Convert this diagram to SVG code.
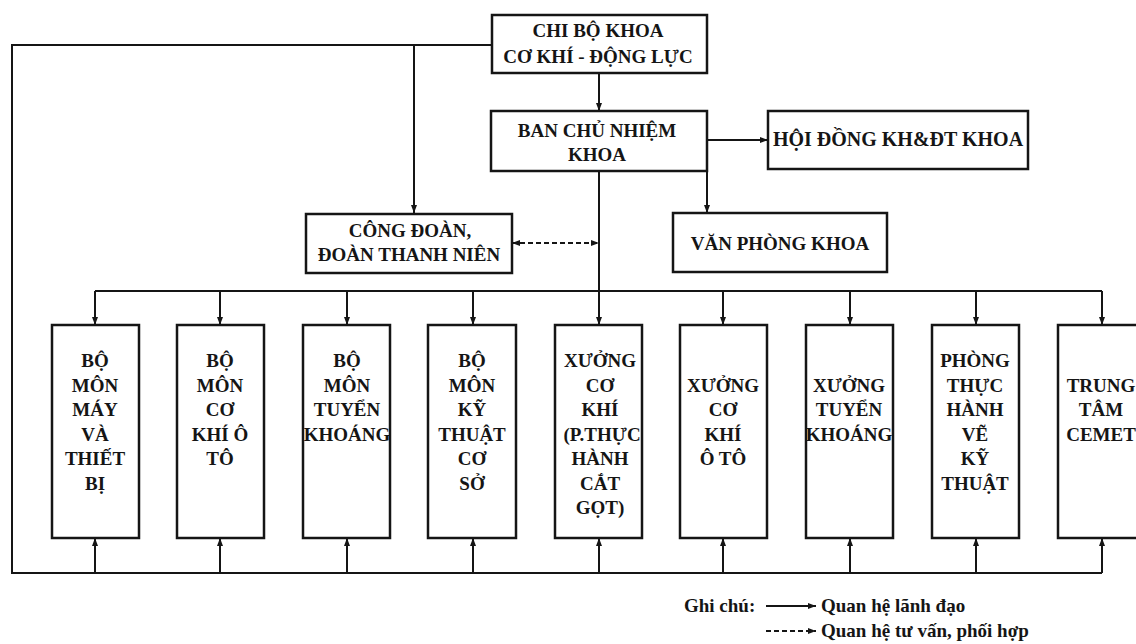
<svg xmlns="http://www.w3.org/2000/svg" width="1136" height="644" viewBox="0 0 1136 644">
<style>
.box{fill:#fff;stroke:#151515;stroke-width:2.5}
.ln{fill:none;stroke:#151515;stroke-width:2}
.dash{fill:none;stroke:#151515;stroke-width:2;stroke-dasharray:5 3}
.t{font-family:"Liberation Serif","Times New Roman",serif;font-weight:bold;font-size:19px;fill:#151515;text-anchor:middle}
.lg{font-family:"Liberation Serif","Times New Roman",serif;font-weight:bold;font-size:19px;fill:#151515}
</style>
<defs>
<marker id="ah" viewBox="0 0 8 6" refX="8" refY="3" markerWidth="8" markerHeight="6" markerUnits="userSpaceOnUse" orient="auto-start-reverse">
<path d="M0,0 L8,3 L0,6 z" fill="#151515"/>
</marker>
</defs>
<rect width="1136" height="644" fill="#fff"/>

<g id="connectors">
<path class="ln" d="M492,45 H12 V573 H1102"/>
<path class="ln" d="M414,45 V213" marker-end="url(#ah)"/>
<path class="ln" d="M599,73 V111" marker-end="url(#ah)"/>
<path class="ln" d="M707,140 H768" marker-end="url(#ah)"/>
<path class="ln" d="M707,171 V213" marker-end="url(#ah)"/>
<path class="ln" d="M599,171 V325" marker-end="url(#ah)"/>
<path class="dash" d="M512,243 H599" marker-start="url(#ah)" marker-end="url(#ah)"/>
<path class="ln" d="M95,291 H1102"/>
<path class="ln" d="M95,291 V325" marker-end="url(#ah)"/>
<path class="ln" d="M220,291 V325" marker-end="url(#ah)"/>
<path class="ln" d="M347,291 V325" marker-end="url(#ah)"/>
<path class="ln" d="M473,291 V325" marker-end="url(#ah)"/>
<path class="ln" d="M723,291 V325" marker-end="url(#ah)"/>
<path class="ln" d="M850,291 V325" marker-end="url(#ah)"/>
<path class="ln" d="M976,291 V325" marker-end="url(#ah)"/>
<path class="ln" d="M1102,291 V325" marker-end="url(#ah)"/>
<path class="ln" d="M95,573 V538" marker-end="url(#ah)"/>
<path class="ln" d="M220,573 V538" marker-end="url(#ah)"/>
<path class="ln" d="M347,573 V538" marker-end="url(#ah)"/>
<path class="ln" d="M473,573 V538" marker-end="url(#ah)"/>
<path class="ln" d="M599,573 V538" marker-end="url(#ah)"/>
<path class="ln" d="M723,573 V538" marker-end="url(#ah)"/>
<path class="ln" d="M850,573 V538" marker-end="url(#ah)"/>
<path class="ln" d="M976,573 V538" marker-end="url(#ah)"/>
<path class="ln" d="M1102,573 V538" marker-end="url(#ah)"/>
</g>

<g id="chi-bo">
<rect class="box" x="492" y="15" width="215" height="58"/>
<text class="t" x="598" y="37">CHI BỘ KHOA</text>
<text class="t" x="598" y="63">CƠ KHÍ - ĐỘNG LỰC</text>
</g>

<g id="ban-chu-nhiem">
<rect class="box" x="491" y="111" width="216" height="60"/>
<text class="t" x="597" y="137">BAN CHỦ NHIỆM</text>
<text class="t" x="597" y="161">KHOA</text>
</g>

<g id="hoi-dong">
<rect class="box" x="768" y="111" width="260" height="58"/>
<text class="t" x="898" y="146" style="font-size:20px">HỘI ĐỒNG KH&amp;ĐT KHOA</text>
</g>

<g id="cong-doan">
<rect class="box" x="306" y="214" width="206" height="59"/>
<text class="t" x="410" y="237">CÔNG ĐOÀN,</text>
<text class="t" x="409" y="261">ĐOÀN THANH NIÊN</text>
</g>

<g id="van-phong">
<rect class="box" x="673" y="213" width="214" height="59"/>
<text class="t" x="780" y="250">VĂN PHÒNG KHOA</text>
</g>

<g id="bm-may">
<rect class="box" x="52" y="325" width="87" height="213"/>
<text class="t" x="95" y="367"><tspan x="95">BỘ</tspan><tspan x="95" dy="24.5">MÔN</tspan><tspan x="95" dy="24.5">MÁY</tspan><tspan x="95" dy="24.5">VÀ</tspan><tspan x="95" dy="24.5">THIẾT</tspan><tspan x="95" dy="24.5">BỊ</tspan></text>
</g>

<g id="bm-oto">
<rect class="box" x="177" y="325" width="87" height="213"/>
<text class="t" x="220" y="367"><tspan x="220">BỘ</tspan><tspan x="220" dy="24.5">MÔN</tspan><tspan x="220" dy="24.5">CƠ</tspan><tspan x="220" dy="24.5">KHÍ Ô</tspan><tspan x="220" dy="24.5">TÔ</tspan></text>
</g>

<g id="bm-tuyen-khoang">
<rect class="box" x="303" y="325" width="87" height="213"/>
<text class="t" x="347" y="367"><tspan x="347">BỘ</tspan><tspan x="347" dy="24.5">MÔN</tspan><tspan x="347" dy="24.5">TUYỂN</tspan><tspan x="347" dy="24.5">KHOÁNG</tspan></text>
</g>

<g id="bm-ktcs">
<rect class="box" x="428" y="325" width="88" height="213"/>
<text class="t" x="472" y="367"><tspan x="472">BỘ</tspan><tspan x="472" dy="24.5">MÔN</tspan><tspan x="472" dy="24.5">KỸ</tspan><tspan x="472" dy="24.5">THUẬT</tspan><tspan x="472" dy="24.5">CƠ</tspan><tspan x="472" dy="24.5">SỞ</tspan></text>
</g>

<g id="xuong-co-khi">
<rect class="box" x="555" y="325" width="87" height="213"/>
<text class="t" x="600" y="367"><tspan x="600">XƯỞNG</tspan><tspan x="600" dy="24.5">CƠ</tspan><tspan x="600" dy="24.5">KHÍ</tspan><tspan x="602" dy="24.5">(P.THỰC</tspan><tspan x="600" dy="24.5">HÀNH</tspan><tspan x="600" dy="24.5">CẮT</tspan><tspan x="600" dy="24.5">GỌT)</tspan></text>
</g>

<g id="xuong-oto">
<rect class="box" x="680" y="325" width="87" height="213"/>
<text class="t" x="723" y="391.5"><tspan x="723">XƯỞNG</tspan><tspan x="723" dy="24.5">CƠ</tspan><tspan x="723" dy="24.5">KHÍ</tspan><tspan x="723" dy="24.5">Ô TÔ</tspan></text>
</g>

<g id="xuong-tuyen-khoang">
<rect class="box" x="806" y="325" width="87" height="213"/>
<text class="t" x="849" y="391.5"><tspan x="849">XƯỞNG</tspan><tspan x="849" dy="24.5">TUYỂN</tspan><tspan x="849" dy="24.5">KHOÁNG</tspan></text>
</g>

<g id="phong-ve">
<rect class="box" x="932" y="325" width="87" height="213"/>
<text class="t" x="975" y="367"><tspan x="975">PHÒNG</tspan><tspan x="975" dy="24.5">THỰC</tspan><tspan x="975" dy="24.5">HÀNH</tspan><tspan x="975" dy="24.5">VẼ</tspan><tspan x="975" dy="24.5">KỸ</tspan><tspan x="975" dy="24.5">THUẬT</tspan></text>
</g>

<g id="cemet">
<rect class="box" x="1058" y="325" width="90" height="213"/>
<text class="t" x="1101" y="391.5"><tspan x="1101">TRUNG</tspan><tspan x="1101" dy="24.5">TÂM</tspan><tspan x="1101" dy="24.5">CEMET</tspan></text>
</g>

<g id="legend">
<text class="lg" x="684" y="612">Ghi chú:</text>
<path class="ln" d="M766,606 H816" marker-end="url(#ah)"/>
<text class="lg" x="821" y="612">Quan hệ lãnh đạo</text>
<path class="dash" d="M766,631 H816" marker-end="url(#ah)"/>
<text class="lg" x="821" y="637">Quan hệ tư vấn, phối hợp</text>
</g>
</svg>
